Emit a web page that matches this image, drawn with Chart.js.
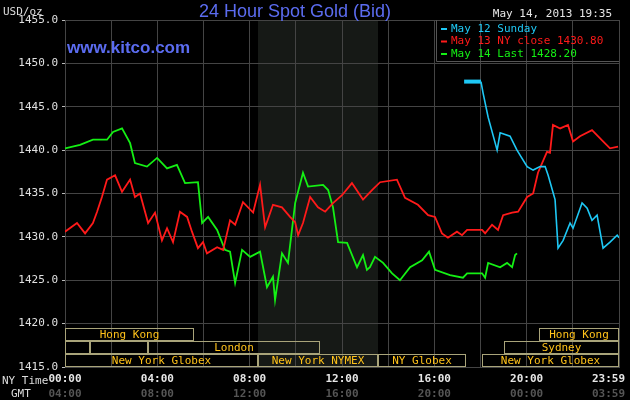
<!DOCTYPE html>
<html>
<head>
<meta charset="utf-8">
<script src="https://cdn.jsdelivr.net/npm/chart.js@4/dist/chart.umd.min.js"></script>
<style>
  html, body { margin: 0; padding: 0; background: #000; }
  #wrap { width: 630px; height: 400px; }
</style>
</head>
<body>
<div id="wrap"><canvas id="gold"></canvas></div>
<script>
// Hours are NY time (0 = 00:00)
const may12Hours = [17.29, 18.02, 18.11, 18.33, 18.72, 18.85, 19.28, 19.58, 20.02, 20.28, 20.58, 20.8, 20.93, 21.23, 21.36, 21.58, 21.88, 22.01, 22.4, 22.62, 22.83, 23.05, 23.31, 23.61, 23.92, 24.0];
const may12Values = [1447.9, 1447.9, 1446.6, 1443.8, 1440.0, 1442.0, 1441.6, 1440.0, 1438.1, 1437.7, 1438.1, 1438.1, 1437.1, 1434.3, 1428.7, 1429.6, 1431.6, 1431.0, 1433.9, 1433.3, 1431.9, 1432.5, 1428.7, 1429.4, 1430.2, 1429.9];

const may13Hours = [0, 0.52, 0.87, 1.21, 1.39, 1.6, 1.82, 2.17, 2.47, 2.82, 3.03, 3.25, 3.6, 3.9, 4.2, 4.42, 4.68, 4.98, 5.29, 5.5, 5.76, 5.98, 6.15, 6.59, 6.85, 7.15, 7.37, 7.71, 8.15, 8.45, 8.67, 9.01, 9.4, 9.75, 9.97, 10.1, 10.31, 10.62, 10.96, 11.27, 11.61, 12.0, 12.43, 12.91, 13.3, 13.65, 14.38, 14.73, 15.29, 15.73, 16.03, 16.33, 16.59, 16.98, 17.2, 17.42, 18.07, 18.2, 18.5, 18.76, 18.98, 19.37, 19.63, 20.02, 20.28, 20.49, 20.88, 21.01, 21.14, 21.45, 21.79, 22.01, 22.31, 22.83, 23.31, 23.61, 23.96];
const may13Values = [1430.6, 1431.6, 1430.4, 1431.6, 1432.9, 1434.6, 1436.6, 1437.1, 1435.2, 1436.6, 1434.6, 1435.0, 1431.6, 1432.8, 1429.6, 1431.0, 1429.4, 1432.9, 1432.3, 1430.6, 1428.7, 1429.4, 1428.1, 1428.8, 1428.5, 1431.9, 1431.4, 1434.0, 1432.8, 1436.0, 1431.1, 1433.7, 1433.4, 1432.3, 1431.7, 1430.2, 1431.6, 1434.6, 1433.4, 1432.9, 1433.9, 1434.8, 1436.2, 1434.3, 1435.4, 1436.3, 1436.6, 1434.5, 1433.7, 1432.5, 1432.3, 1430.4, 1429.9, 1430.6, 1430.2, 1430.8, 1430.8, 1430.4, 1431.4, 1430.8, 1432.5, 1432.8, 1432.9, 1434.6, 1435.0, 1437.4, 1439.8, 1439.7, 1442.9, 1442.5, 1442.9, 1441.0, 1441.6, 1442.3, 1441.0, 1440.2, 1440.4];

const may14Hours = [0, 0.65, 1.21, 1.82, 2.08, 2.47, 2.82, 3.03, 3.55, 3.99, 4.42, 4.85, 5.2, 5.76, 5.94, 6.2, 6.59, 6.93, 7.15, 7.37, 7.67, 8.02, 8.45, 8.75, 9.01, 9.1, 9.4, 9.66, 9.97, 10.31, 10.53, 11.18, 11.4, 11.61, 11.83, 12.22, 12.65, 12.91, 13.08, 13.21, 13.43, 13.78, 14.17, 14.51, 14.95, 15.47, 15.77, 16.03, 16.68, 17.24, 17.42, 18.07, 18.2, 18.33, 18.85, 19.15, 19.37, 19.5, 19.58];
const may14Values = [1440.2, 1440.6, 1441.2, 1441.2, 1442.1, 1442.5, 1440.8, 1438.5, 1438.1, 1439.1, 1437.9, 1438.3, 1436.2, 1436.3, 1431.6, 1432.3, 1430.8, 1428.5, 1428.3, 1424.7, 1428.5, 1427.7, 1428.3, 1424.2, 1425.4, 1422.7, 1428.1, 1427.0, 1433.9, 1437.4, 1435.8, 1436.0, 1435.4, 1433.4, 1429.4, 1429.3, 1426.5, 1427.9, 1426.2, 1426.5, 1427.7, 1427.0, 1425.8, 1425.0, 1426.5, 1427.3, 1428.3, 1426.2, 1425.6, 1425.3, 1425.8, 1425.8, 1425.3, 1427.0, 1426.5, 1427.0, 1426.5, 1427.9, 1428.1];

const nyTicks = ['00:00', '04:00', '08:00', '12:00', '16:00', '20:00', '23:59'];
const gmtTicks = ['04:00', '08:00', '12:00', '16:00', '20:00', '00:00', '03:59'];
const tickHours = [0, 4, 8, 12, 16, 20, 24];

// Trading sessions: [row, start hour, end hour, label]
const sessions = [
    [0, 0, 5.59, 'Hong Kong'], [0, 20.54, 24, 'Hong Kong'],
    [1, 0, 1.08, ''], [1, 1.08, 3.6, ''], [1, 3.6, 11.05, 'London'], [1, 19.02, 24, 'Sydney'],
    [2, 0, 8.36, 'New York Globex'], [2, 8.36, 13.56, 'New York NYMEX'],
    [2, 13.56, 17.37, 'NY Globex'], [2, 18.07, 24, 'New York Globex']
];
const nymexOpen = [8.36, 13.56];

const mono = '"DejaVu Sans Mono", monospace';

function toPoints(hours, values) {
    return hours.map((h, i) => ({ x: h, y: values[i] }));
}

const kitcoPlugin = {
    id: 'kitco',
    beforeDraw(chart) {
        const { ctx, chartArea: a, scales } = chart;
        ctx.save();
        ctx.fillStyle = '#000';
        ctx.fillRect(0, 0, chart.width, chart.height);
        // NYMEX open shading
        const x1 = scales.x.getPixelForValue(nymexOpen[0]);
        const x2 = scales.x.getPixelForValue(nymexOpen[1]);
        ctx.fillStyle = '#161916';
        ctx.fillRect(x1, a.top, x2 - x1, a.bottom - a.top);
        ctx.restore();
    },
    afterDraw(chart) {
        const { ctx, chartArea: a, scales } = chart;
        ctx.save();

        // session rows, three 13px rows above the bottom axis
        const rowH = 13;
        const top0 = Math.round(a.bottom) - 3 * rowH;
        ctx.strokeStyle = '#a9a47a';
        ctx.lineWidth = 1;
        ctx.font = '11px ' + mono;
        ctx.fillStyle = '#ffc21a';
        ctx.textAlign = 'center';
        ctx.textBaseline = 'middle';
        sessions.forEach(s => {
            const xa = Math.round(scales.x.getPixelForValue(s[1]));
            const xb = Math.round(scales.x.getPixelForValue(s[2]));
            const y = top0 + s[0] * rowH;
            ctx.strokeRect(xa + 0.5, y + 0.5, xb - xa - 1, rowH - 1);
            if (s[3]) ctx.fillText(s[3], (xa + xb) / 2, y + rowH / 2 + 1);
        });

        // x labels
        ctx.font = 'bold 11px ' + mono;
        tickHours.forEach((h, i) => {
            let x = scales.x.getPixelForValue(h);
            ctx.textAlign = i === tickHours.length - 1 ? 'right' : 'center';
            if (i === tickHours.length - 1) x += 6;
            ctx.fillStyle = '#e6e6e6';
            ctx.fillText(nyTicks[i], x, a.bottom + 12);
            ctx.fillStyle = '#555';
            ctx.fillText(gmtTicks[i], x, a.bottom + 27);
        });
        ctx.font = '11px ' + mono;
        ctx.fillStyle = '#ddd';
        ctx.textAlign = 'left';
        ctx.fillText('NY Time', 2, a.bottom + 14);
        ctx.fillText('GMT', 11, a.bottom + 27);
        ctx.fillText('USD/oz', 3, 12);

        // title and site
        ctx.fillStyle = '#5b6cf0';
        ctx.font = '18px "Liberation Sans", Arial, sans-serif';
        ctx.textAlign = 'center';
        ctx.fillText('24 Hour Spot Gold (Bid)', 295, 12);
        ctx.font = 'bold 17px "Liberation Sans", Arial, sans-serif';
        ctx.textAlign = 'left';
        ctx.fillText('www.kitco.com', 67, 48);

        // date and legend
        ctx.font = '11px ' + mono;
        ctx.fillStyle = '#e6e6e6';
        ctx.textAlign = 'right';
        ctx.fillText('May 14, 2013 19:35', 612, 14);
        ctx.textAlign = 'left';
        const legend = [['May 12 Sunday', '#1ec8f5'], ['May 13 NY close 1430.80', '#ff1a1a'], ['May 14 Last 1428.20', '#14f014']];
        legend.forEach((l, i) => {
            const y = 29 + i * 12.5;
            ctx.fillStyle = l[1];
            ctx.fillRect(441, y - 1, 6, 2);
            ctx.fillText(l[0], 451, y);
        });
        ctx.strokeStyle = '#555';
        ctx.beginPath();
        ctx.moveTo(436.5, 20); ctx.lineTo(436.5, 61.5); ctx.lineTo(a.right, 61.5);
        ctx.stroke();
        ctx.restore();
    }
};

new Chart(document.getElementById('gold'), {
    type: 'line',
    data: {
        datasets: [
            { label: 'May 12 Sunday', data: toPoints(may12Hours, may12Values), borderColor: '#1ec8f5', borderWidth: 1.6,
              segment: { borderWidth: c => c.p0DataIndex === 0 ? 4 : 1.6 } },
            { label: 'May 13 NY close', data: toPoints(may13Hours, may13Values), borderColor: '#ff1a1a', borderWidth: 1.8 },
            { label: 'May 14 Last', data: toPoints(may14Hours, may14Values), borderColor: '#14f014', borderWidth: 1.8 }
        ]
    },
    options: {
        responsive: true,
        maintainAspectRatio: false,
        animation: false,
        layout: { padding: { top: 20, right: 11, left: 0, bottom: 0 } },
        elements: { point: { radius: 0 }, line: { tension: 0 } },
        plugins: { legend: { display: false }, tooltip: { enabled: false } },
        scales: {
            x: {
                type: 'linear', min: 0, max: 24,
                ticks: { display: false, stepSize: 2 },
                grid: { color: '#444', drawTicks: false },
                border: { color: '#444' },
                afterFit: s => { s.height = 33; }
            },
            y: {
                min: 1415, max: 1455,
                ticks: { stepSize: 5, color: '#e0e0e0', font: { family: mono, size: 11 },
                         padding: 4, callback: v => v.toFixed(1) },
                grid: { color: '#444', tickLength: 3, tickColor: '#bbb' },
                border: { color: '#444' },
                afterFit: s => { s.width = 65; }
            }
        }
    },
    plugins: [kitcoPlugin]
});
</script>
</body>
</html>
